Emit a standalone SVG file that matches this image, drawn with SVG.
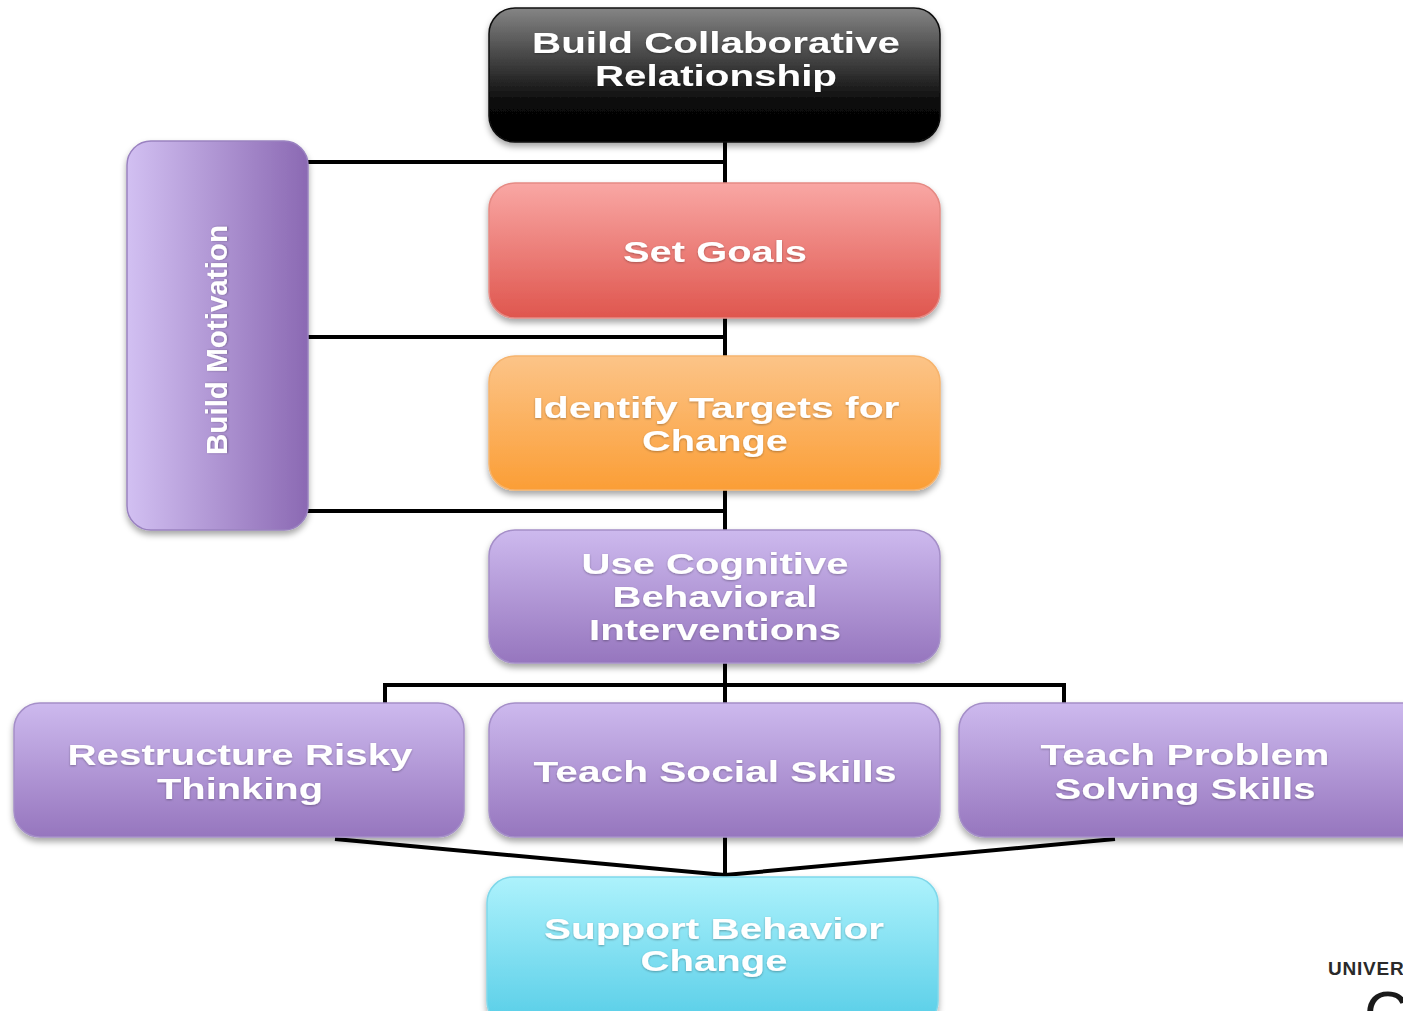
<svg xmlns="http://www.w3.org/2000/svg" width="1403" height="1011" viewBox="0 0 1403 1011">
  <defs>
    <linearGradient id="gBlack" x1="0" y1="0" x2="0" y2="1">
      <stop offset="0" stop-color="#858585"/>
      <stop offset="0.72" stop-color="#080808"/>
      <stop offset="1" stop-color="#000"/>
    </linearGradient>
    <linearGradient id="gRed" x1="0" y1="0" x2="0" y2="1">
      <stop offset="0" stop-color="#f9a7a4"/>
      <stop offset="1" stop-color="#df564e"/>
    </linearGradient>
    <linearGradient id="gOrange" x1="0" y1="0" x2="0" y2="1">
      <stop offset="0" stop-color="#fcc488"/>
      <stop offset="1" stop-color="#fb9e36"/>
    </linearGradient>
    <linearGradient id="gPurple" x1="0" y1="0" x2="0" y2="1">
      <stop offset="0" stop-color="#cdb9ee"/>
      <stop offset="1" stop-color="#9676be"/>
    </linearGradient>
    <linearGradient id="gPurpleH" x1="0" y1="0" x2="1" y2="0">
      <stop offset="0" stop-color="#d2c0f2"/>
      <stop offset="1" stop-color="#8b69b3"/>
    </linearGradient>
    <linearGradient id="gCyan" x1="0" y1="0" x2="0" y2="1">
      <stop offset="0" stop-color="#adf2fc"/>
      <stop offset="1" stop-color="#56cde7"/>
    </linearGradient>
    <filter id="shadow" x="-10%" y="-10%" width="120%" height="130%">
      <feDropShadow dx="0" dy="4" stdDeviation="3" flood-color="#000" flood-opacity="0.35"/>
    </filter>
    <filter id="tshadow" x="-5%" y="-20%" width="110%" height="150%">
      <feDropShadow dx="0" dy="1" stdDeviation="1" flood-color="#000" flood-opacity="0.3"/>
    </filter>
  </defs>
  <style>
    .box { filter: url(#shadow); stroke-width: 1.5; }
    .lbl { font-family: "Liberation Sans", Arial, sans-serif; font-weight: bold; font-size: 30px; fill: #fff; text-anchor: middle; filter: url(#tshadow); }
    .conn { stroke: #000; stroke-width: 4; fill: none; }
  </style>

  <rect width="1403" height="1011" fill="#fff"/>

  <!-- connectors -->
  <g id="connectors">
    <line class="conn" x1="725" y1="142" x2="725" y2="184"/>
    <line class="conn" x1="307" y1="162" x2="727" y2="162"/>
    <line class="conn" x1="725" y1="317" x2="725" y2="357"/>
    <line class="conn" x1="307" y1="337" x2="727" y2="337"/>
    <line class="conn" x1="725" y1="490" x2="725" y2="531"/>
    <line class="conn" x1="307" y1="511" x2="727" y2="511"/>
    <line class="conn" x1="725" y1="663" x2="725" y2="704"/>
    <polyline class="conn" points="385,704 385,685 1064,685 1064,704"/>
    <line class="conn" x1="335" y1="839" x2="725" y2="875"/>
    <line class="conn" x1="1115" y1="839" x2="725" y2="875"/>
    <line class="conn" x1="725" y1="837" x2="725" y2="876"/>
  </g>

  <!-- top: collaborative relationship -->
  <g id="node-relationship">
    <rect class="box" x="489" y="8" width="451" height="134" rx="26" fill="url(#gBlack)" stroke="#111"/>
    <text class="lbl" x="716" y="53" textLength="368" lengthAdjust="spacingAndGlyphs">Build Collaborative</text>
    <text class="lbl" x="716" y="86" textLength="242" lengthAdjust="spacingAndGlyphs">Relationship</text>
  </g>

  <!-- side: motivation -->
  <g id="node-motivation">
    <rect class="box" x="127" y="141" width="181" height="389" rx="24" fill="url(#gPurpleH)" stroke="#9a82c0"/>
    <text class="lbl" transform="translate(227,340) rotate(-90)" x="0" y="0" font-size="41" textLength="230" lengthAdjust="spacingAndGlyphs">Build Motivation</text>
  </g>

  <g id="node-goals">
    <rect class="box" x="489" y="183" width="451" height="135" rx="26" fill="url(#gRed)" stroke="#e58a84"/>
    <text class="lbl" x="715" y="262" textLength="184" lengthAdjust="spacingAndGlyphs">Set Goals</text>
  </g>

  <g id="node-targets">
    <rect class="box" x="489" y="356" width="451" height="134" rx="26" fill="url(#gOrange)" stroke="#f6b46e"/>
    <text class="lbl" x="716" y="418" textLength="367" lengthAdjust="spacingAndGlyphs">Identify Targets for</text>
    <text class="lbl" x="715" y="451" textLength="146" lengthAdjust="spacingAndGlyphs">Change</text>
  </g>

  <g id="node-cbt">
    <rect class="box" x="489" y="530" width="451" height="133" rx="26" fill="url(#gPurple)" stroke="#a58fc8"/>
    <text class="lbl" x="715" y="574" textLength="267" lengthAdjust="spacingAndGlyphs">Use Cognitive</text>
    <text class="lbl" x="715" y="607" textLength="205" lengthAdjust="spacingAndGlyphs">Behavioral</text>
    <text class="lbl" x="715" y="640" textLength="252" lengthAdjust="spacingAndGlyphs">Interventions</text>
  </g>

  <g id="node-thinking">
    <rect class="box" x="14" y="703" width="450" height="134" rx="26" fill="url(#gPurple)" stroke="#a58fc8"/>
    <text class="lbl" x="240" y="765" textLength="345" lengthAdjust="spacingAndGlyphs">Restructure Risky</text>
    <text class="lbl" x="240" y="799" textLength="166" lengthAdjust="spacingAndGlyphs">Thinking</text>
  </g>

  <g id="node-social">
    <rect class="box" x="489" y="703" width="451" height="134" rx="26" fill="url(#gPurple)" stroke="#a58fc8"/>
    <text class="lbl" x="715" y="782" textLength="363" lengthAdjust="spacingAndGlyphs">Teach Social Skills</text>
  </g>

  <g id="node-problem">
    <rect class="box" x="959" y="703" width="470" height="134" rx="26" fill="url(#gPurple)" stroke="#a58fc8"/>
    <text class="lbl" x="1185" y="765" textLength="289" lengthAdjust="spacingAndGlyphs">Teach Problem</text>
    <text class="lbl" x="1185" y="799" textLength="261" lengthAdjust="spacingAndGlyphs">Solving Skills</text>
  </g>

  <g id="node-support">
    <rect class="box" x="487" y="877" width="451" height="150" rx="26" fill="url(#gCyan)" stroke="#7fd8ea"/>
    <text class="lbl" x="714" y="939" textLength="340" lengthAdjust="spacingAndGlyphs">Support Behavior</text>
    <text class="lbl" x="714" y="971" textLength="147" lengthAdjust="spacingAndGlyphs">Change</text>
  </g>

  <!-- corner logo, clipped by the page edge -->
  <g id="logo">
    <text x="1328" y="975" font-family="'Liberation Sans', Arial, sans-serif" font-weight="bold" font-size="19" fill="#2a2a2a" letter-spacing="0.8">UNIVER</text>
    <text x="1364" y="1034" font-family="'Liberation Sans', Arial, sans-serif" font-size="62" fill="#1a1a1a">C</text>
  </g>
</svg>
